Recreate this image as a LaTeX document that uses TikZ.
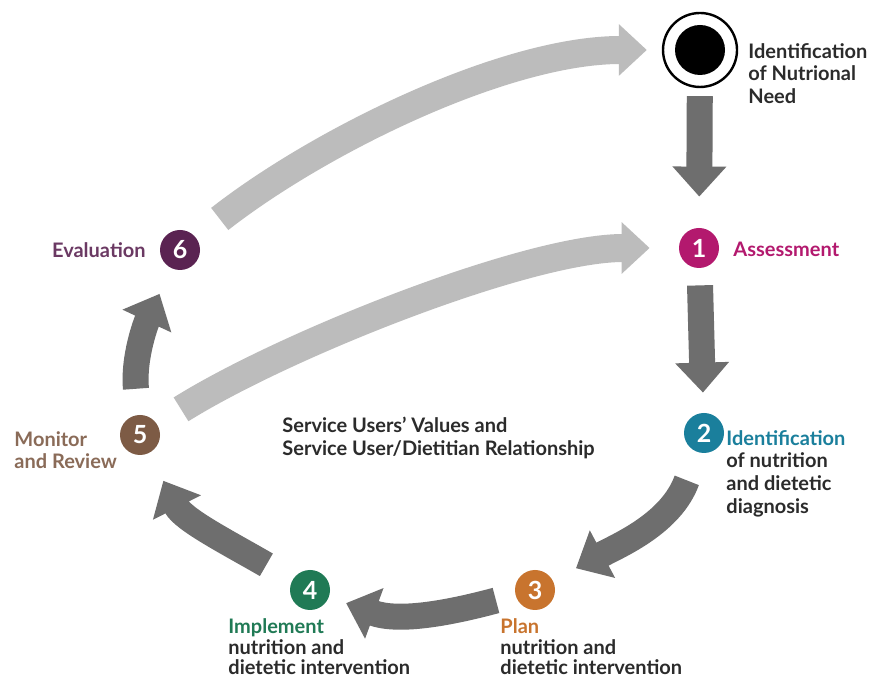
\documentclass[tikz,border=0pt]{standalone}
\usepackage{fontspec}
\setmainfont{Lato}
\usetikzlibrary{arrows.meta}

\definecolor{ink}{HTML}{2B2B2B}
\definecolor{darkarr}{HTML}{6E6E6E}
\definecolor{lightarr}{HTML}{BCBCBC}
\definecolor{cAssess}{HTML}{B3196E}
\definecolor{cDiag}{HTML}{1A7F9C}
\definecolor{cPlan}{HTML}{C8742E}
\definecolor{cImpl}{HTML}{207A55}
\definecolor{cMon}{HTML}{7D5B45}
\definecolor{cEval}{HTML}{5A2352}

\tikzset{
  num/.style={circle, fill=#1, minimum size=20pt, inner sep=0pt, text=white,
    font=\bfseries\fontsize{12.5}{12.5}\selectfont},
  lbl/.style={align=left, inner sep=0pt, text=ink,
    font=\bfseries\fontsize{10}{11.3}\selectfont},
  lowlbl/.style={lbl, font=\bfseries\fontsize{10}{10.4}\selectfont},
  darkarrow/.style={draw=darkarr, line width=13pt,
    -{Triangle[width=26pt, length=15pt]}},
  lightarrow/.style={draw=lightarr, line width=14pt,
    -{Triangle[width=25pt, length=14pt]}}
}

\begin{document}
\begin{tikzpicture}[x=0.5pt, y=0.5pt]
    \useasboundingbox[fill=white] (0,0) rectangle (870,678);

    \node[circle, draw=black, line width=1.2pt, fill=white, minimum size=37pt] (N) at (700, 628) {};
    \fill[black] (N.center) circle[radius=25];
    \node[num=cAssess] (S1) at (699, 430) {1};
    \node[num=cDiag]   (S2) at (704, 245) {2};
    \node[num=cPlan]   (S3) at (535, 88) {3};
    \node[num=cImpl]   (S4) at (310, 88) {4};
    \node[num=cMon]    (S5) at (140, 243) {5};
    \node[num=cEval]   (S6) at (180, 428) {6};

    \node[lbl, anchor=north west] (LN) at (748, 635) {Identification\\of Nutrional\\Need};
    \node[lbl, anchor=west, text=cAssess] (L1) at (733, 429) {Assessment};
    \node[lbl, anchor=north west] (L2) at (726, 248) {\textcolor{cDiag}{Identification}\\of nutrition\\and dietetic\\diagnosis};
    \node[lowlbl, anchor=north west] (L3) at (500, 60) {\textcolor{cPlan}{Plan}\\nutrition and\\dietetic intervention};
    \node[lowlbl, anchor=north west] (L4) at (228, 60) {\textcolor{cImpl}{Implement}\\nutrition and\\dietetic intervention};
    \node[lbl, anchor=north west, text=cMon!90!white] (L5) at (14, 247) {Monitor\\and Review};
    \node[lbl, anchor=east, text=cEval!90!white] (L6) at (146, 428) {Evaluation};
    \node[lbl, anchor=north west] (C) at (282, 261) {Service Users’ Values and\\Service User/Dietitian Relationship};

    \path (S6) edge[lightarrow, out=38, in=180, looseness=0.8, shorten <=15pt, shorten >=7.5pt] (N);
    \path (S5) edge[lightarrow, out=32, in=180, looseness=0.7, shorten <=14pt, shorten >=14.5pt] (S1);

    \path (N)  edge[darkarrow, shorten <=4pt, shorten >=15.5pt] (S1);
    \path (S1) edge[darkarrow, shorten <=8.5pt, shorten >=10pt] (S2);
    \path (S2) edge[darkarrow, out=250, in=28, shorten <=15pt, shorten >=13pt] (S3);
    \path (S3) edge[darkarrow, out=195, in=-20, shorten <=10pt, shorten >=9pt] (S4);
    \path (S4) edge[darkarrow, out=150, in=-63, shorten <=15pt, shorten >=15.5pt] (S5);
    \path (S5) edge[darkarrow, out=95, in=245, shorten <=13pt, shorten >=14pt] (S6);
  \end{tikzpicture}
\end{document}
